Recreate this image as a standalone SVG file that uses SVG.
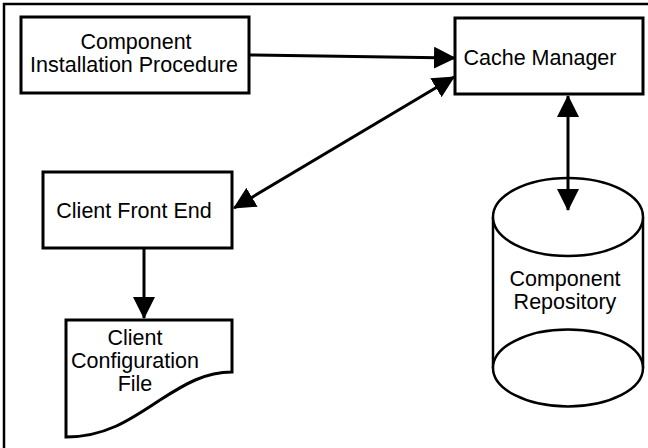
<svg xmlns="http://www.w3.org/2000/svg" width="648" height="448" viewBox="0 0 648 448">
<style>
.box{fill:#fff;stroke:#000;stroke-width:3}
.shape{fill:#fff;stroke:#000;stroke-width:2.5}
.lbl{font-family:"Liberation Sans",Arial,sans-serif;font-size:21.5px;fill:#000;text-anchor:middle}
.conn{stroke:#000;stroke-width:3;fill:none}
</style>
<defs>
<marker id="ah" markerUnits="userSpaceOnUse" markerWidth="22" markerHeight="22" refX="21" refY="11" orient="auto-start-reverse" viewBox="0 0 22 22">
<path d="M0,0 L22,11 L0,22 Z" fill="#000"/>
</marker>
</defs>
<rect width="648" height="448" fill="#fff"/>
<rect x="4" y="4" width="660" height="460" fill="none" stroke="#000" stroke-width="2.5"/>
<g id="install">
<rect class="box" x="21" y="17" width="228" height="76"/>
<text class="lbl" x="136" y="49">Component</text>
<text class="lbl" x="134" y="72">Installation Procedure</text>
</g>
<g id="cache">
<rect class="box" x="455" y="18" width="188" height="76"/>
<text class="lbl" x="540" y="65">Cache Manager</text>
</g>
<g id="frontend">
<rect class="box" x="43" y="172" width="189" height="76"/>
<text class="lbl" x="134" y="218">Client Front End</text>
</g>
<g id="config">
<path class="box" d="M66,320 L232,320 L232,372 C205,372 185,384 160,400 C130,420 105,437 66,437 Z"/>
<text class="lbl" x="135" y="345">Client</text>
<text class="lbl" x="135" y="368">Configuration</text>
<text class="lbl" x="135" y="391">File</text>
</g>
<g id="repository">
<path class="shape" d="M493,217 L493,368 A75,38.5 0 0 0 643,368 L643,217"/>
<ellipse class="shape" cx="568" cy="217" rx="75" ry="39"/>
<path class="shape" fill="none" d="M493,368 A75,38.5 0 0 1 643,368"/>
<text class="lbl" x="565" y="286">Component</text>
<text class="lbl" x="565" y="309">Repository</text>
</g>
<g id="connectors">
<line class="conn" x1="249" y1="55" x2="455" y2="58" marker-end="url(#ah)"/>
<line class="conn" x1="234" y1="208" x2="454" y2="77" marker-start="url(#ah)" marker-end="url(#ah)"/>
<line class="conn" x1="144" y1="248" x2="144" y2="318" marker-end="url(#ah)"/>
<line class="conn" x1="568" y1="96" x2="568" y2="210" marker-start="url(#ah)" marker-end="url(#ah)"/>
</g>
</svg>
